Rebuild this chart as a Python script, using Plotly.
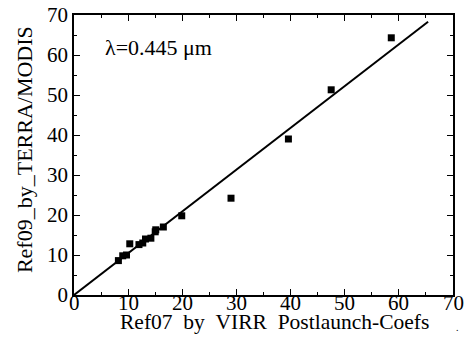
import plotly.graph_objects as go

ref07_x = [8.2, 9.0, 9.7, 10.3, 12.0, 12.7, 13.2, 14.2, 15.0, 15.1, 16.5, 19.9, 29.0, 39.6, 47.5, 58.6]
ref09_y = [8.6, 9.8, 10.0, 12.8, 12.6, 13.0, 14.0, 14.2, 15.8, 16.3, 17.0, 19.8, 24.2, 39.0, 51.3, 64.3]
fit_x = [0, 65.4]
fit_y = [0, 68.3]
ticks = [0, 10, 20, 30, 40, 50, 60, 70]
tick_labels = ["0", "10", "20", "30", "40", "50", "60", "70"]

FONT = "Liberation Serif"

fig = go.Figure()
fig.add_trace(go.Scatter(x=fit_x, y=fit_y, mode="lines",
                         line=dict(color="black", width=2), showlegend=False))
fig.add_trace(go.Scatter(x=ref07_x, y=ref09_y, mode="markers",
                         marker=dict(symbol="square", size=7, color="black"), showlegend=False))

axis_common = dict(range=[0, 70], tickvals=ticks, ticktext=tick_labels,
                   ticks="inside", ticklen=6, tickwidth=1,
                   tickcolor="black", showline=True, linecolor="black", linewidth=1.5,
                   mirror="ticks", showgrid=False, zeroline=False, automargin=False,
                   tickfont=dict(family=FONT, size=21, color="black"),
                   minor=dict(ticks="inside", ticklen=3, tickcolor="black", dtick=5, showgrid=False))

fig.update_xaxes(**axis_common, showticklabels=False)
fig.update_yaxes(**axis_common, ticklabelstandoff=0)

# x tick labels placed just under the axis, as in the reference
for t, lab in zip(ticks, tick_labels):
    fig.add_annotation(x=t, y=-0.027, xref="x", yref="paper", text=lab, showarrow=False,
                       xanchor="center", yanchor="middle", borderpad=0,
                       font=dict(family=FONT, size=21, color="black"))

fig.add_annotation(x=0.530, y=-0.097, xref="paper", yref="paper",
                   text="Ref07\u00a0\u00a0by\u00a0\u00a0VIRR\u00a0\u00a0Postlaunch-Coefs",
                   showarrow=False, xanchor="center", yanchor="middle",
                   font=dict(family=FONT, size=21.5, color="black"))
fig.add_annotation(x=-0.129, y=0.518, xref="paper", yref="paper",
                   text="Ref09_by_TERRA/MODIS", textangle=-90,
                   showarrow=False, xanchor="center", yanchor="middle",
                   font=dict(family=FONT, size=22, color="black"))
fig.add_annotation(x=5.4, y=62, xref="x", yref="y", text="λ=0.445 μm", showarrow=False,
                   xanchor="left", yanchor="middle",
                   font=dict(family=FONT, size=22, color="black"))
fig.add_annotation(x=1.013, y=-0.115, xref="paper", yref="paper", text=".", showarrow=False,
                   xanchor="center", yanchor="middle",
                   font=dict(family=FONT, size=10, color="black"))

fig.update_layout(width=465, height=339, margin=dict(l=74, r=12, t=15, b=44),
                  paper_bgcolor="white", plot_bgcolor="white",
                  font=dict(family=FONT))

fig.write_html("out.html")
